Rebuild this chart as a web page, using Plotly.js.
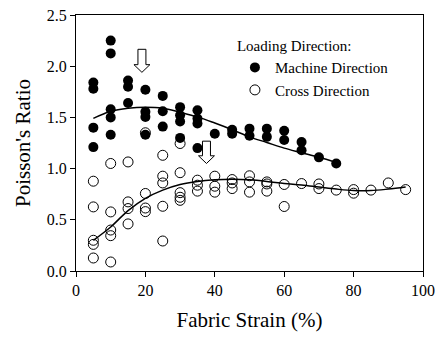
<!DOCTYPE html>
<html>
<head>
<meta charset="utf-8">
<script src="https://cdn.plot.ly/plotly-3.0.1.min.js"></script>
<style>html,body{margin:0;padding:0;background:#fff;}#chart{width:435px;height:337px;}</style>
</head>
<body>
<div id="chart"></div>
<script>
// Machine direction (filled) measurements
const machineX = [5,5,5,5, 10,10,10,10,10, 15,15,15, 20,20,20,20, 25,25,25, 30,30,30,30, 35,35,35,35, 40, 45,45, 50,50, 55,55, 60,60, 65,65, 70, 75];
const machineY = [1.84,1.78,1.40,1.21, 2.25,2.125,1.58,1.50,1.33, 1.86,1.80,1.64, 1.77,1.555,1.505,1.33, 1.71,1.56,1.41, 1.60,1.52,1.46,1.30, 1.57,1.49,1.44,1.20, 1.34, 1.38,1.34, 1.39,1.32, 1.39,1.31, 1.37,1.28, 1.26,1.18, 1.11, 1.05];

// Cross direction (open) measurements
const crossX = [5,5,5,5,5, 10,10,10,10,10, 15,15,15,15, 20,20,20,20, 25,25,25,25,25, 30,30,30,30,30, 35,35,35, 40,40,40, 45,45,45, 50,50,50, 55,55,55, 60,60, 65, 70,70, 75, 80,80, 85, 90, 95];
const crossY = [0.877,0.626,0.30,0.26,0.127, 1.05,0.577,0.40,0.345,0.088, 1.065,0.675,0.61,0.46, 1.35,0.757,0.615,0.58, 1.13,0.926,0.86,0.632,0.293, 1.245,0.96,0.765,0.72,0.69, 0.887,0.838,0.78, 0.926,0.828,0.77, 0.893,0.86,0.805, 0.93,0.87,0.77, 0.87,0.85,0.78, 0.845,0.63, 0.854, 0.85,0.805, 0.79, 0.795,0.76, 0.79, 0.86, 0.795];

// Fitted curves
const machineFitX = [5,10,15,20,25,30,35,40,45,50,55,60,65,70,75];
const machineFitY = [1.49,1.56,1.59,1.60,1.59,1.55,1.505,1.445,1.38,1.31,1.255,1.20,1.155,1.11,1.06];
const crossFitX = [5,10,15,20,25,30,35,40,45,50,55,60,65,70,75,80,85,90,95];
const crossFitY = [0.30,0.43,0.59,0.71,0.79,0.845,0.875,0.89,0.895,0.89,0.875,0.855,0.84,0.82,0.80,0.785,0.785,0.80,0.82];

// Hollow arrows: x centre, top, tip
const arrowX = [19, 37.6];
const arrowTop = [2.165, 1.268];
const arrowTip = [1.94, 1.05];

const FONT = "Liberation Serif, Times New Roman, serif";

const traces = [
  {x: machineX, y: machineY, mode: 'markers', type: 'scatter', name: 'Machine Direction',
   marker: {symbol: 'circle', size: 10, color: '#000'}},
  {x: crossX, y: crossY, mode: 'markers', type: 'scatter', name: 'Cross Direction',
   marker: {symbol: 'circle-open', size: 10, color: '#000', line: {width: 1, color: '#000'}}},
  {x: machineFitX, y: machineFitY, mode: 'lines', type: 'scatter', showlegend: false,
   line: {color: '#000', width: 1.5, shape: 'spline'}},
  {x: crossFitX, y: crossFitY, mode: 'lines', type: 'scatter', showlegend: false,
   line: {color: '#000', width: 1.5, shape: 'spline'}}
];

const shaftHalf = 1.15, headHalf = 2.3, headH = 0.075;
const shapes = arrowX.map((cx, i) => {
  const t = arrowTop[i], b = arrowTip[i], h = b + headH;
  const p = `M ${cx - shaftHalf} ${t} L ${cx + shaftHalf} ${t} L ${cx + shaftHalf} ${h} L ${cx + headHalf} ${h} L ${cx} ${b} L ${cx - headHalf} ${h} L ${cx - shaftHalf} ${h} Z`;
  return {type: 'path', xref: 'x', yref: 'y', path: p, fillcolor: '#fff', line: {color: '#000', width: 1}};
});

const layout = {
  width: 435, height: 337,
  margin: {l: 76, r: 12, t: 15, b: 66},
  paper_bgcolor: '#fff', plot_bgcolor: '#fff',
  font: {family: FONT, size: 15, color: '#000'},
  showlegend: true,
  legend: {
    x: 0.458, y: 0.935, xanchor: 'left', yanchor: 'top',
    bgcolor: 'rgba(0,0,0,0)', borderwidth: 0,
    font: {family: FONT, size: 15, color: '#000'},
    title: {text: 'Loading Direction:', font: {family: FONT, size: 15, color: '#000'}},
    traceorder: 'normal'
  },
  xaxis: {
    range: [0, 100], tickvals: [0,20,40,60,80,100], ticktext: ['0','20','40','60','80','100'],
    ticks: 'outside', ticklen: 5, tickcolor: '#000', tickwidth: 1,
    showline: true, linecolor: '#000', linewidth: 1, mirror: true,
    showgrid: false, zeroline: false,
    tickfont: {family: FONT, size: 16, color: '#000'},
    title: {text: 'Fabric Strain (%)', font: {family: FONT, size: 21, color: '#000'}, standoff: 14}
  },
  yaxis: {
    range: [0, 2.5], tickvals: [0,0.5,1,1.5,2,2.5], ticktext: ['0.0','0.5','1.0','1.5','2.0','2.5'],
    ticks: 'outside', ticklen: 5, tickcolor: '#000', tickwidth: 1,
    showline: true, linecolor: '#000', linewidth: 1, mirror: true,
    showgrid: false, zeroline: false,
    tickfont: {family: FONT, size: 16, color: '#000'},
    title: {text: "Poisson's Ratio", font: {family: FONT, size: 21, color: '#000'}, standoff: 10}
  },
  shapes: shapes
};

Plotly.newPlot('chart', traces, layout, {staticPlot: true, displayModeBar: false});
</script>
</body>
</html>
